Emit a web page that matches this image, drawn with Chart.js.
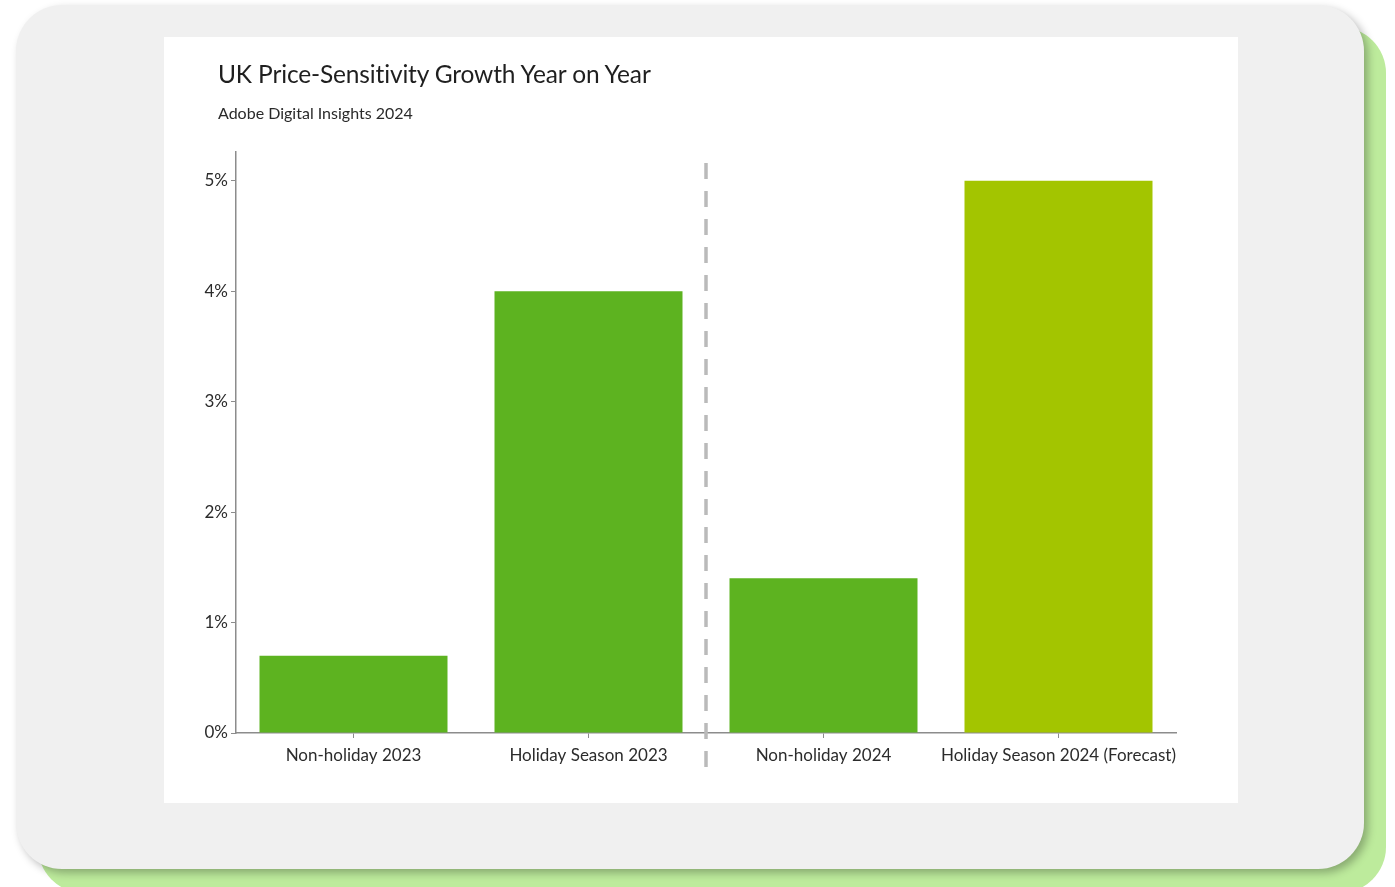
<!DOCTYPE html>
<html>
<head>
<meta charset="utf-8">
<script src="https://cdn.jsdelivr.net/npm/chart.js@4"></script>
<style>
  html, body { margin: 0; padding: 0; background: #ffffff; }
  body { width: 1395px; height: 887px; position: relative; overflow: hidden; font-family: Lato, "Open Sans", sans-serif; }
  .back { position: absolute; left: 38px; top: 27px; width: 1348px; height: 866px; background: #bdeb9c; border-radius: 46px; }
  .card { position: absolute; left: 16px; top: 5px; width: 1348px; height: 864px; background: #f0f0f0; border-radius: 46px;
          box-shadow: 4px 4px 9px rgba(0,0,0,0.28); }
  .panel { position: absolute; left: 164px; top: 37px; width: 1074px; height: 766px; background: #ffffff; }
  .title { position: absolute; left: 54px; top: 22px; font-size: 24.5px; color: #1f1f1f; letter-spacing: -0.15px; }
  .sub { position: absolute; left: 54px; top: 66px; font-size: 16px; color: #2a2a2a; }
  #chart { position: absolute; left: 0; top: 0; }
</style>
</head>
<body>
<div class="back"></div>
<div class="card"></div>
<div class="panel">
  <canvas id="chart" width="1074" height="766"></canvas>
  <div class="title">UK Price-Sensitivity Growth Year on Year</div>
  <div class="sub">Adobe Digital Insights 2024</div>
</div>
<script>
const categories = ["Non-holiday 2023", "Holiday Season 2023", "Non-holiday 2024", "Holiday Season 2024 (Forecast)"];
const growth = [0.7, 4.0, 1.4, 5.0];
const barColors = ["#5db320", "#5db320", "#5db320", "#a3c500"];
const yTicks = [0, 1, 2, 3, 4, 5];

// dashed divider between the 2023 and 2024 pairs
const dividerPlugin = {
  id: "divider",
  afterDraw(chart) {
    const x = chart.scales.x;
    const px = (x.getPixelForValue(1) + x.getPixelForValue(2)) / 2;
    const ctx = chart.ctx;
    ctx.save();
    ctx.strokeStyle = "#bababa";
    ctx.lineWidth = 3.5;
    ctx.setLineDash([16, 12]);
    ctx.beginPath();
    ctx.moveTo(px, chart.chartArea.top + 11);
    ctx.lineTo(px, chart.chartArea.bottom + 34);
    ctx.stroke();
    ctx.restore();
  }
};

new Chart(document.getElementById("chart"), {
  type: "bar",
  data: {
    labels: categories,
    datasets: [{
      data: growth,
      backgroundColor: barColors,
      borderWidth: 0,
      categoryPercentage: 0.8,
      barPercentage: 1.0
    }]
  },
  options: {
    responsive: false,
    animation: false,
    layout: { padding: { top: 115, left: 20, right: 62, bottom: 0 } },
    plugins: {
      legend: { display: false },
      tooltip: { enabled: false }
    },
    scales: {
      x: {
        afterFit(scale) { scale.height = 70; },
        border: { color: "#8c8c8c", width: 1.5 },
        grid: { offset: false, drawOnChartArea: false, tickLength: 5, color: "#8c8c8c" },
        ticks: {
          color: "#2b2b2b",
          padding: 7,
          maxRotation: 0,
          minRotation: 0,
          autoSkip: false,
          font: { family: "Lato", size: 17 }
        }
      },
      y: {
        min: 0,
        max: 5.26,
        afterFit(scale) { scale.width = 52; },
        afterBuildTicks(scale) { scale.ticks = yTicks.map(v => ({ value: v })); },
        border: { color: "#8c8c8c", width: 1.5 },
        grid: { drawOnChartArea: false, tickLength: 5, color: "#8c8c8c" },
        ticks: {
          color: "#2b2b2b",
          padding: 3,
          font: { family: "Lato", size: 17 },
          callback: v => v + "%"
        }
      }
    }
  },
  plugins: [dividerPlugin]
});
</script>
</body>
</html>
